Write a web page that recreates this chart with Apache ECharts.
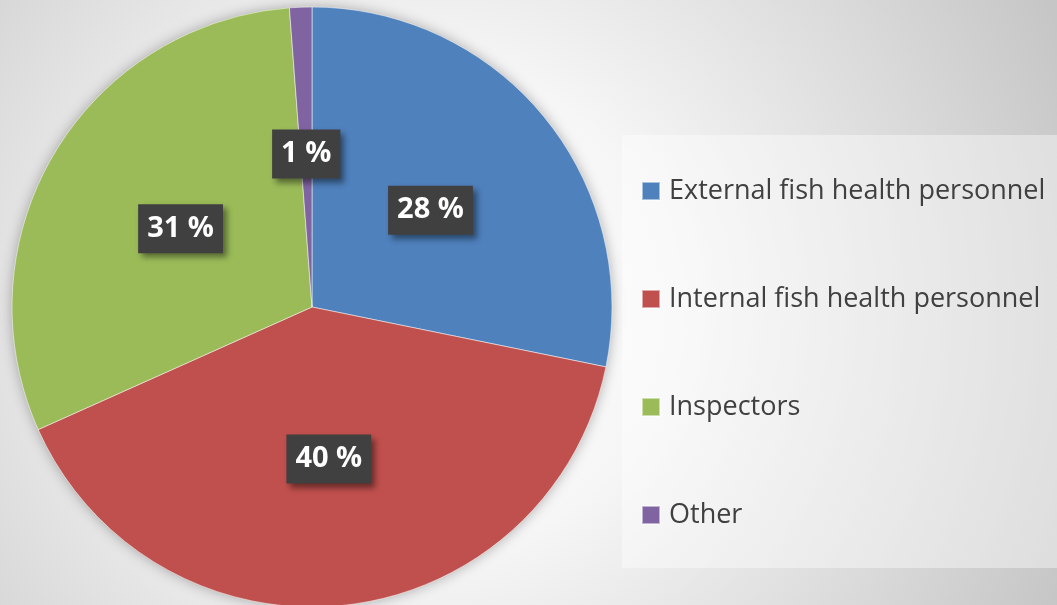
<!DOCTYPE html>
<html>
<head>
<meta charset="utf-8">
<script src="https://cdn.jsdelivr.net/npm/echarts@6/dist/echarts.min.js"></script>
<style>
  html, body { margin: 0; padding: 0; }
  #main { width: 1057px; height: 605px; }
</style>
</head>
<body>
<div id="main"></div>
<script>
var categories = ['External fish health personnel', 'Internal fish health personnel', 'Inspectors', 'Other'];
var shares = [28.2, 40.1, 30.5, 1.2];
var colors = ['#4F81BD', '#C0504D', '#9BBB59', '#8064A2'];

var myChart = echarts.init(document.getElementById('main'));
var option = {
    backgroundColor: {
        type: 'radial', x: 430, y: 310, r: 690, global: true,
        colorStops: [
            { offset: 0, color: '#fefefe' },
            { offset: 0.35, color: '#f6f6f6' },
            { offset: 0.75, color: '#d9d9d9' },
            { offset: 1, color: '#c6c6c6' }
        ]
    },
    graphic: [{
        // soft shadow behind the pie
        type: 'circle',
        z: 0,
        shape: { cx: 312, cy: 307, r: 299 },
        style: {
            fill: '#cccccc',
            shadowColor: 'rgba(0,0,0,0.35)',
            shadowBlur: 14
        }
    }, {
        type: 'rect',
        z: 0,
        shape: { x: 622, y: 135, width: 440, height: 433 },
        style: { fill: 'rgba(255,255,255,0.4)' }
    }],
    legend: {
        orient: 'vertical',
        left: 641,
        top: 176,
        padding: 0,
        itemWidth: 18,
        itemHeight: 18,
        itemGap: 78,
        icon: 'rect',
        data: categories,
        textStyle: {
            fontFamily: 'Open Sans',
            fontSize: 27,
            lineHeight: 30,
            color: '#404040',
            padding: [0, 0, 0, 4]
        }
    },
    color: colors,
    series: [
        {
            name: 'Share',
            type: 'pie',
            center: [312, 307],
            radius: [0, 300],
            startAngle: 90,
            clockwise: true,
            percentPrecision: 0,
            avoidLabelOverlap: false,
            itemStyle: {
                borderColor: 'rgba(255,255,255,0.5)',
                borderWidth: 1
            },
            label: {
                show: true,
                position: 'inside',
                formatter: '{d} %',
                fontFamily: 'Open Sans',
                fontWeight: 'bold',
                fontSize: 29,
                color: '#ffffff',
                backgroundColor: '#404040',
                padding: [11, 9, 9, 9],
                shadowColor: 'rgba(0,0,0,0.45)',
                shadowBlur: 6,
                shadowOffsetX: 4,
                shadowOffsetY: 4
            },
            labelLine: { show: false },
            emphasis: { disabled: true },
            data: categories.map(function (name, i) {
                return { name: name, value: shares[i] };
            })
        }
    ]
};
myChart.setOption(option);
</script>
</body>
</html>
